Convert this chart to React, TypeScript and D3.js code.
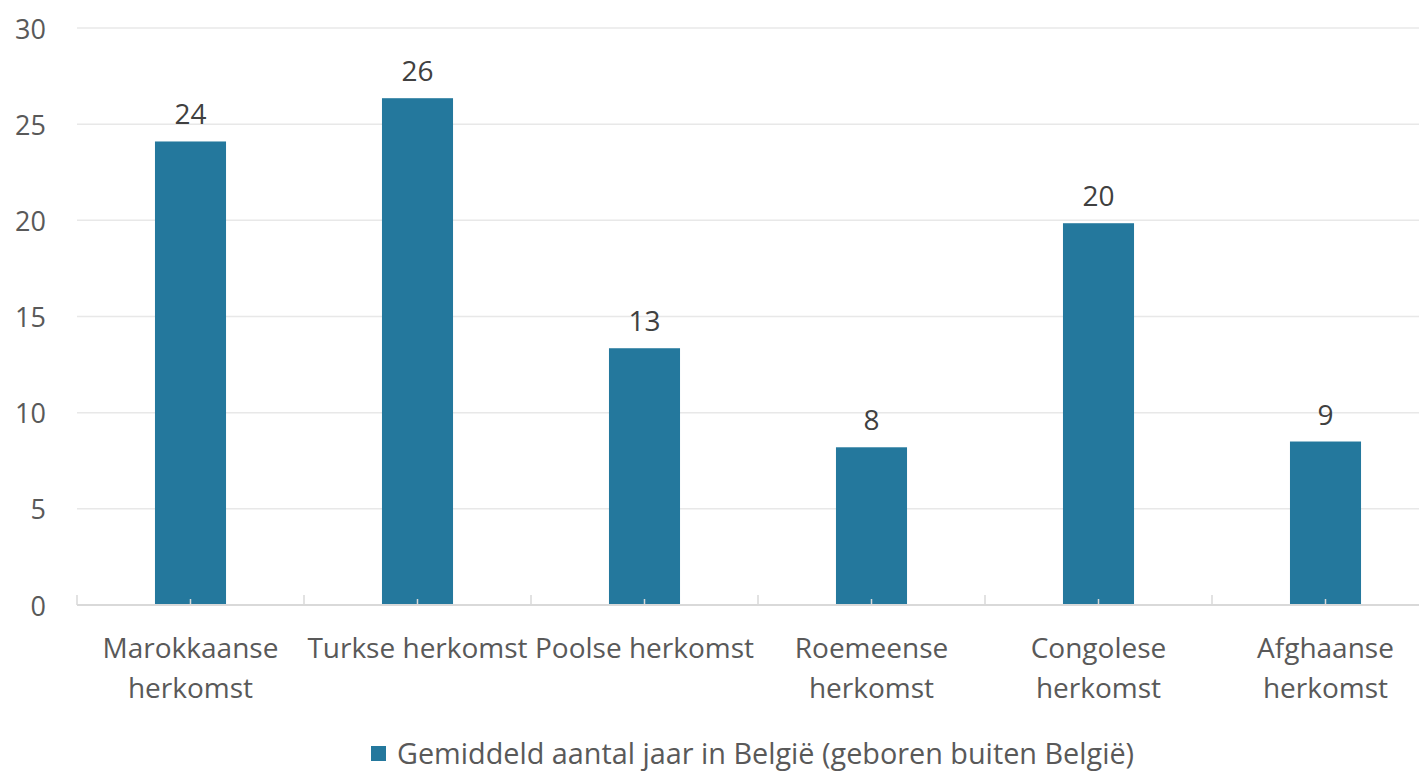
import { useRef, useEffect } from 'react';
import * as d3 from 'd3';

const CATEGORIES = [
  ['Marokkaanse', 'herkomst'],
  ['Turkse herkomst'],
  ['Poolse herkomst'],
  ['Roemeense', 'herkomst'],
  ['Congolese', 'herkomst'],
  ['Afghaanse', 'herkomst'],
];
const VALUES = [24.1, 26.35, 13.35, 8.2, 19.85, 8.5];
const Y_TICKS = [0, 5, 10, 15, 20, 25, 30];
const LEGEND = 'Gemiddeld aantal jaar in België (geboren buiten België)';

const BAR = '#24789d';
const FONT = '"Open Sans", sans-serif';

export default function App() {
  const svgRef = useRef<SVGSVGElement>(null);

  useEffect(() => {
    if (!svgRef.current) return;
    const width = 1419;
    const height = 773;
    // plot area runs a little past the right edge of the image
    const margin = { top: 28, right: -20, bottom: 168, left: 77 };

    const svg = d3.select(svgRef.current);
    svg.selectAll('*').remove();

    const keys = CATEGORIES.map(c => c.join(' '));
    const x = d3.scaleBand<string>()
      .domain(keys)
      .range([margin.left, width - margin.right])
      .paddingInner(0.687)
      .paddingOuter(0.3435);
    const y = d3.scaleLinear().domain([0, 30]).range([height - margin.bottom, margin.top]);

    // Grid lines
    svg.append('g')
      .selectAll('line')
      .data(Y_TICKS.filter(d => d > 0))
      .join('line')
      .attr('x1', margin.left).attr('x2', width)
      .attr('y1', d => y(d)).attr('y2', d => y(d))
      .attr('stroke', '#e8e8e8').attr('stroke-width', 1.5);

    // Y labels
    svg.append('g')
      .selectAll('text')
      .data(Y_TICKS)
      .join('text')
      .attr('x', 46).attr('y', d => y(d))
      .attr('text-anchor', 'end').attr('dominant-baseline', 'central')
      .attr('fill', '#595959').attr('font-size', '27px').attr('font-family', FONT)
      .text(d => d);

    // Bars
    svg.append('g')
      .selectAll('rect')
      .data(VALUES)
      .join('rect')
      .attr('x', (_, i) => x(keys[i])!)
      .attr('y', d => y(d))
      .attr('width', x.bandwidth())
      .attr('height', d => y(0) - y(d))
      .attr('fill', BAR);

    // Data labels
    svg.append('g')
      .selectAll('text')
      .data(VALUES)
      .join('text')
      .attr('x', (_, i) => x(keys[i])! + x.bandwidth() / 2)
      .attr('y', d => y(d) - 17)
      .attr('text-anchor', 'middle')
      .attr('fill', '#404040').attr('font-size', '28px').attr('font-family', FONT)
      .text(d => Math.round(d));

    // Baseline and ticks
    const base = y(0);
    svg.append('line')
      .attr('x1', margin.left).attr('x2', width)
      .attr('y1', base).attr('y2', base)
      .attr('stroke', '#d9d9d9').attr('stroke-width', 2);

    const step = x.step();
    const bounds = d3.range(keys.length + 1).map(i => margin.left + i * step);
    svg.append('g')
      .selectAll('line')
      .data(bounds)
      .join('line')
      .attr('x1', d => d).attr('x2', d => d)
      .attr('y1', base - 10).attr('y2', base)
      .attr('stroke', '#d9d9d9').attr('stroke-width', 1.5);
    svg.append('g')
      .selectAll('line')
      .data(keys)
      .join('line')
      .attr('x1', d => x(d)! + x.bandwidth() / 2).attr('x2', d => x(d)! + x.bandwidth() / 2)
      .attr('y1', base - 6).attr('y2', base)
      .attr('stroke', '#d9d9d9').attr('stroke-width', 1.5);

    // Category labels
    const cat = svg.append('g')
      .selectAll('text')
      .data(CATEGORIES)
      .join('text')
      .attr('x', (_, i) => x(keys[i])! + x.bandwidth() / 2)
      .attr('y', 658)
      .attr('text-anchor', 'middle')
      .attr('fill', '#595959').attr('font-size', '28px').attr('font-family', FONT);
    cat.selectAll('tspan')
      .data(d => d)
      .join('tspan')
      .attr('x', function () { return (this.parentNode as SVGTextElement).getAttribute('x'); })
      .attr('dy', (_, j) => (j === 0 ? 0 : 40))
      .text(d => d);

    // Legend
    svg.append('rect')
      .attr('x', 371).attr('y', 746).attr('width', 15).attr('height', 15)
      .attr('fill', BAR);
    svg.append('text')
      .attr('x', 397).attr('y', 764)
      .attr('fill', '#595959').attr('font-size', '28.8px').attr('font-family', FONT)
      .text(LEGEND);
  }, []);

  return (
    <svg
      ref={svgRef}
      width={1419}
      height={773}
      style={{ position: 'absolute', left: 0, top: 0, background: 'white' }}
    />
  );
}
